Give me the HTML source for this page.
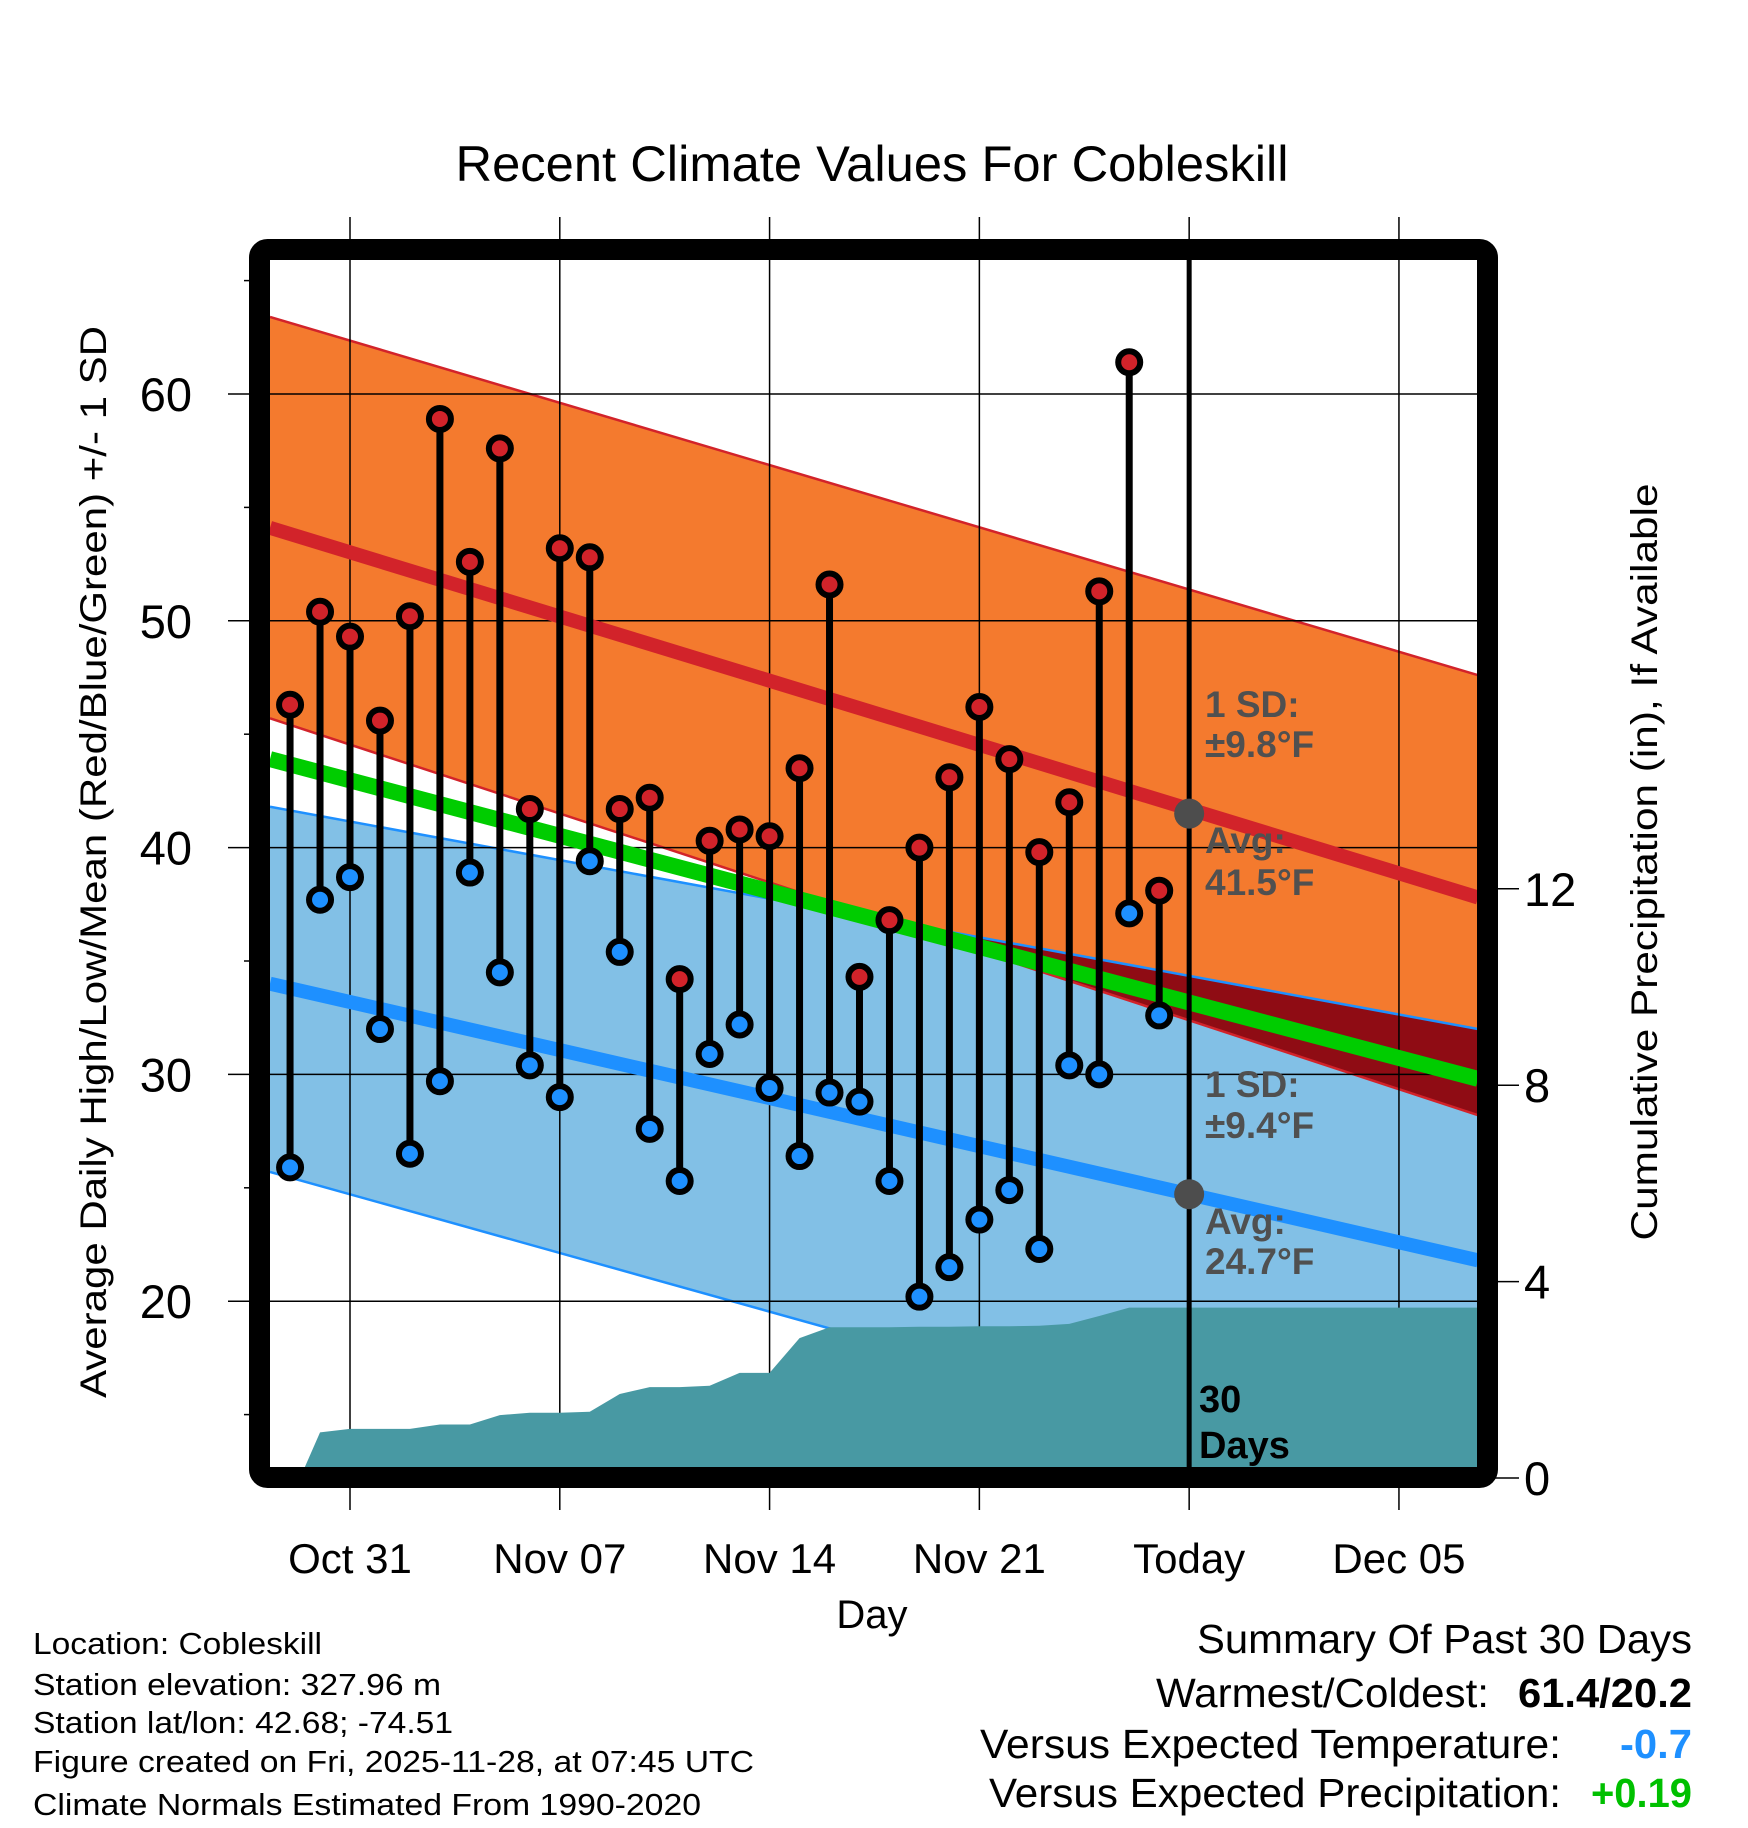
<!DOCTYPE html>
<html><head><meta charset="utf-8"><title>Recent Climate Values For Cobleskill</title>
<style>html,body{margin:0;padding:0;background:#fff}svg{display:block;font-family:"Liberation Sans",Arial,sans-serif}</style></head>
<body>
<svg id="chart" width="1748" height="1828" viewBox="0 0 1748 1828" xmlns="http://www.w3.org/2000/svg">
<defs><clipPath id="plotclip"><rect x="270" y="260" width="1208" height="1208"/></clipPath>
<clipPath id="orangeclip"><polygon id="orangeclipPoly" points=""/></clipPath></defs>
<text x="872" y="181" font-size="50" text-anchor="middle" textLength="833" lengthAdjust="spacingAndGlyphs">Recent Climate Values For Cobleskill</text>
<g id="plot" clip-path="url(#plotclip)"></g>
<g id="axes"></g>
<rect x="259.5" y="249.5" width="1228" height="1228" rx="8" fill="none" stroke="#000" stroke-width="21"/>
<text transform="translate(106,862) rotate(-90)" font-size="37" text-anchor="middle" textLength="1072" lengthAdjust="spacingAndGlyphs">Average Daily High/Low/Mean (Red/Blue/Green) +/- 1 SD</text>
<text transform="translate(1657,862) rotate(-90)" font-size="37" text-anchor="middle" textLength="757" lengthAdjust="spacingAndGlyphs">Cumulative Precipitation (in), If Available</text>
<text x="872" y="1628" font-size="40" text-anchor="middle">Day</text>
<g font-size="31">
<text x="33" y="1654" textLength="289" lengthAdjust="spacingAndGlyphs">Location: Cobleskill</text>
<text x="33" y="1695" textLength="408" lengthAdjust="spacingAndGlyphs">Station elevation: 327.96 m</text>
<text x="33" y="1733" textLength="420" lengthAdjust="spacingAndGlyphs">Station lat/lon: 42.68; -74.51</text>
<text x="33" y="1772" textLength="721" lengthAdjust="spacingAndGlyphs">Figure created on Fri, 2025-11-28, at 07:45 UTC</text>
<text x="33" y="1815" textLength="668" lengthAdjust="spacingAndGlyphs">Climate Normals Estimated From 1990-2020</text>
</g>
<g font-size="41">
<text x="1197" y="1653" textLength="495" lengthAdjust="spacingAndGlyphs">Summary Of Past 30 Days</text>
<text x="1156" y="1707" textLength="333" lengthAdjust="spacingAndGlyphs">Warmest/Coldest:</text>
<text x="1518" y="1707" font-weight="bold" textLength="174" lengthAdjust="spacingAndGlyphs">61.4/20.2</text>
<text x="980" y="1758" textLength="581" lengthAdjust="spacingAndGlyphs">Versus Expected Temperature:</text>
<text x="1620" y="1758" font-weight="bold" fill="#1e90ff" textLength="72" lengthAdjust="spacingAndGlyphs">-0.7</text>
<text x="989" y="1807" textLength="572" lengthAdjust="spacingAndGlyphs">Versus Expected Precipitation:</text>
<text x="1591" y="1807" font-weight="bold" fill="#00c000" textLength="101" lengthAdjust="spacingAndGlyphs">+0.19</text>
</g>
</svg>
<script>
const highs=[46.3,50.4,49.3,45.6,50.2,58.9,52.6,57.6,41.7,53.2,52.8,41.7,42.2,34.2,40.3,40.8,40.5,43.5,51.6,34.3,36.8,40.0,43.1,46.2,43.9,39.8,42.0,51.3,61.4,38.1];
const lows=[25.9,37.7,38.7,32.0,26.5,29.7,38.9,34.5,30.4,29.0,39.4,35.4,27.6,25.3,30.9,32.2,29.4,26.4,29.2,28.8,25.3,20.2,21.5,23.6,24.9,22.3,30.4,30.0,37.1,32.6];
const precip=[0,0.93,1.0,1.0,1.0,1.09,1.09,1.28,1.33,1.33,1.35,1.71,1.85,1.85,1.88,2.14,2.14,2.85,3.07,3.07,3.07,3.08,3.08,3.09,3.09,3.1,3.14,3.3,3.47,3.47];
const normDays=[-2.67,37.64];
const highUpper=[63.4,47.6];
const highAvg=[54.1,37.8];
const highLower=[45.7,28.2];
const lowUpper=[41.8,32.0];
const lowAvg=[34.0,21.8];
const lowLower=[25.7,10.8];
const meanAvg=[43.9,29.8];
const tempTicks=[20,30,40,50,60];
const precipTicks=[0,4,8,12];
const dayTickDays=[0,7,14,21,28,35];
const dayTickLabels=["Oct 31","Nov 07","Nov 14","Nov 21","Today","Dec 05"];
const firstDay=-2;
const todayDay=28;

const NS="http://www.w3.org/2000/svg";
const X=d=>350+d*29.97;
const Y=t=>394+(60-t)*22.68;
const P=v=>1478-v*49.1;
const plot=document.getElementById('plot');
const axes=document.getElementById('axes');
function mk(tag,attrs,parent){const e=document.createElementNS(NS,tag);for(const k in attrs)e.setAttribute(k,attrs[k]);parent.appendChild(e);return e;}
function band(up,lo){return [X(normDays[0])+','+Y(up[0]),X(normDays[1])+','+Y(up[1]),X(normDays[1])+','+Y(lo[1]),X(normDays[0])+','+Y(lo[0])].join(' ');}
function line(arr){return {x1:X(normDays[0]),y1:Y(arr[0]),x2:X(normDays[1]),y2:Y(arr[1])};}

let e;
e=mk('polygon',{points:band(highUpper,highLower),fill:'#f47a2e'},plot);


e=mk('polygon',{points:band(lowUpper,lowLower),fill:'#82c0e6'},plot);


document.getElementById('orangeclipPoly').setAttribute('points',band(highUpper,highLower));
e=mk('polygon',{points:band(lowUpper,lowLower),fill:'#8f0c14','clip-path':'url(#orangeclip)'},plot);


[[highUpper,'#d2232a'],[highLower,'#d2232a'],[lowUpper,'#1e90ff'],[lowLower,'#1e90ff']].forEach(([a,c])=>{
  const l=mk('line',Object.assign(line(a),{stroke:c,'stroke-width':2.5}),plot);
  
  
});
tempTicks.forEach(t=>{const g=mk('line',{x1:270,x2:1478,y1:Y(t),y2:Y(t),stroke:'#000','stroke-width':1.5},plot);
  
  });
dayTickDays.forEach(d=>{const g=mk('line',{x1:X(d),x2:X(d),y1:260,y2:1468,stroke:'#000','stroke-width':1.5},plot);
  
  });
let pts=[(X(firstDay)+10)+',1470'];
precip.forEach((v,i)=>pts.push((i===0?X(firstDay)+10:X(firstDay+i))+','+P(v)));
pts.push('1480,'+P(precip[precip.length-1]));pts.push('1480,1470');
e=mk('polygon',{points:pts.join(' '),fill:'#4899a3'},plot);


e=mk('line',Object.assign(line(meanAvg),{stroke:'#00cc00','stroke-width':16}),plot);


e=mk('line',Object.assign(line(highAvg),{stroke:'#d2232a','stroke-width':14}),plot);


e=mk('line',Object.assign(line(lowAvg),{stroke:'#1e90ff','stroke-width':14}),plot);


e=mk('line',{x1:X(todayDay),x2:X(todayDay),y1:250,y2:1470,stroke:'#000','stroke-width':5},plot);


const interp=(a,d)=>a[0]+(a[1]-a[0])*(d-normDays[0])/(normDays[1]-normDays[0]);
e=mk('circle',{cx:X(todayDay),cy:Y(interp(highAvg,todayDay)-0.2),r:15,fill:'#4d4d4d'},plot);


e=mk('circle',{cx:X(todayDay),cy:Y(interp(lowAvg,todayDay)),r:15,fill:'#4d4d4d'},plot);


const lab=[['1 SD:',717],['±9.8°F',757],['Avg:',853],['41.5°F',895],['1 SD:',1097],['±9.4°F',1138],['Avg:',1234],['24.7°F',1274]];
lab.forEach(([s,y])=>{const t=mk('text',{x:1205,y:y,'font-size':37,'font-weight':'bold',fill:'#505050'},plot);t.textContent=s;
  
  });
[['30',1412],['Days',1458]].forEach(([s,y])=>{const t=mk('text',{x:1199,y:y,'font-size':38,'font-weight':'bold',fill:'#000'},plot);t.textContent=s;
  
  });
highs.forEach((h,i)=>{const x=X(firstDay+i);
  const s=mk('line',{x1:x,x2:x,y1:Y(h),y2:Y(lows[i]),stroke:'#000','stroke-width':7},plot);
  
  });
highs.forEach((h,i)=>{const x=X(firstDay+i);
  const c1=mk('circle',{cx:x,cy:Y(h),r:11,fill:'#d2232a',stroke:'#000','stroke-width':6},plot);
  
  
  const c2=mk('circle',{cx:x,cy:Y(lows[i]),r:11,fill:'#1e90ff',stroke:'#000','stroke-width':6},plot);
  
  });
tempTicks.forEach(t=>{const l=mk('line',{x1:228,x2:260,y1:Y(t),y2:Y(t),stroke:'#000','stroke-width':1.5},axes);
  
  
  const tx=mk('text',{x:192,y:Y(t)+17,'font-size':47,'text-anchor':'end'},axes);tx.textContent=t;
  
  });
for(let t=15;t<=65;t+=10){const l=mk('line',{x1:244,x2:260,y1:Y(t),y2:Y(t),stroke:'#000','stroke-width':1.5},axes);
  
  }
precipTicks.forEach(v=>{const l=mk('line',{x1:1488,x2:1519,y1:P(v),y2:P(v),stroke:'#000','stroke-width':1.5},axes);
  
  
  const tx=mk('text',{x:1524,y:P(v)+17,'font-size':47},axes);tx.textContent=v;
  
  });
dayTickDays.forEach((d,i)=>{const l=mk('line',{x1:X(d),x2:X(d),y1:1478,y2:1510,stroke:'#000','stroke-width':1.5},axes);
  
  
  const l2=mk('line',{x1:X(d),x2:X(d),y1:217,y2:250,stroke:'#000','stroke-width':1.5},axes);
  
  
  const tx=mk('text',{x:X(d),y:1573,'font-size':42,'text-anchor':'middle'},axes);tx.textContent=dayTickLabels[i];
  
  });
</script>
</body></html>
